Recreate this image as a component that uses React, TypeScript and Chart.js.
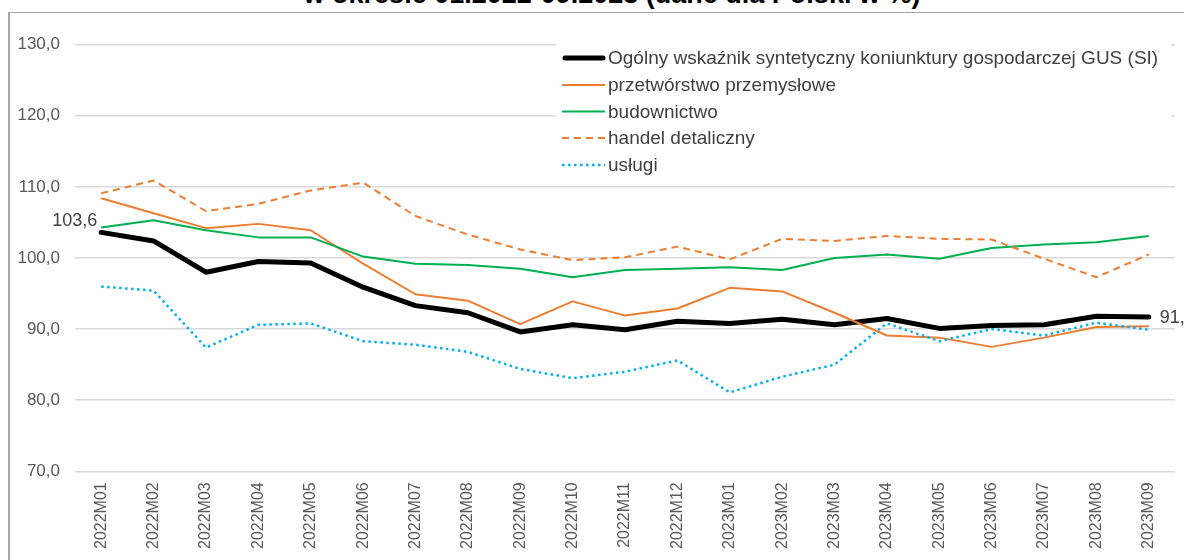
import React, { useEffect, useRef } from "react";
import { Chart, registerables } from "chart.js";

Chart.register(...registerables);

const titleText = "w okresie 01.2022-09.2023 (dane dla Polski w %)";

const categories = [
  "2022M01", "2022M02", "2022M03", "2022M04", "2022M05", "2022M06", "2022M07",
  "2022M08", "2022M09", "2022M10", "2022M11", "2022M12", "2023M01", "2023M02",
  "2023M03", "2023M04", "2023M05", "2023M06", "2023M07", "2023M08", "2023M09",
];

const seriesNames = [
  "Ogólny wskaźnik syntetyczny koniunktury gospodarczej GUS (SI)",
  "przetwórstwo przemysłowe",
  "budownictwo",
  "handel detaliczny",
  "usługi",
];

const siValues = [103.6, 102.4, 98.0, 99.5, 99.3, 95.9, 93.3, 92.3, 89.6, 90.6, 89.9, 91.1, 90.8, 91.4, 90.6, 91.5, 90.1, 90.5, 90.6, 91.8, 91.7];
const manufacturingValues = [108.4, 106.3, 104.2, 104.8, 103.9, 99.2, 94.9, 94.0, 90.7, 93.9, 91.9, 92.9, 95.8, 95.3, 92.3, 89.1, 88.8, 87.5, 88.8, 90.3, 90.4];
const constructionValues = [104.3, 105.3, 103.9, 102.9, 102.9, 100.2, 99.2, 99.0, 98.5, 97.3, 98.3, 98.5, 98.7, 98.3, 100.0, 100.5, 99.9, 101.4, 101.9, 102.2, 103.1];
const retailValues = [109.1, 110.9, 106.6, 107.6, 109.5, 110.6, 105.9, 103.3, 101.2, 99.7, 100.1, 101.6, 99.8, 102.7, 102.4, 103.1, 102.7, 102.6, 99.9, 97.3, 100.5];
const servicesValues = [96.0, 95.4, 87.4, 90.6, 90.8, 88.3, 87.8, 86.8, 84.4, 83.1, 84.0, 85.6, 81.1, 83.3, 85.0, 90.8, 88.3, 90.0, 89.1, 90.9, 89.9];

const yMin = 70;
const yMax = 130;
const yStep = 10;

const FONT = "'Liberation Sans', Arial, sans-serif";

const fmt = (v: number) => v.toFixed(1).replace(".", ",");

const styles = [
  { color: "#000000", width: 5, dash: [] as number[] },
  { color: "#ED7D31", width: 2, dash: [] as number[] },
  { color: "#00B050", width: 2, dash: [] as number[] },
  { color: "#ED7D31", width: 2, dash: [7, 5] },
  { color: "#00B0F0", width: 2.5, dash: [2.5, 3.5] },
];

const legendPlugin = {
  id: "boxLegend",
  afterDraw(chart: any) {
    const ctx = chart.ctx;
    ctx.save();
    ctx.fillStyle = "#ffffff";
    ctx.fillRect(556, 36, 615, 146);
    const rowY = [58, 85, 111.5, 138, 165];
    ctx.font = `19px ${FONT}`;
    ctx.textBaseline = "middle";
    ctx.textAlign = "left";
    seriesNames.forEach((name, i) => {
      const s = styles[i];
      ctx.beginPath();
      ctx.strokeStyle = s.color;
      ctx.lineWidth = s.width;
      ctx.lineCap = i === 0 ? "round" : "butt";
      ctx.setLineDash(s.dash);
      ctx.moveTo(i === 0 ? 565 : 562, rowY[i]);
      ctx.lineTo(i === 0 ? 603 : 605, rowY[i]);
      ctx.stroke();
      ctx.setLineDash([]);
      ctx.fillStyle = "#404040";
      ctx.fillText(name, 608, rowY[i] + 1);
    });
    ctx.restore();
  },
};

const labelPlugin = {
  id: "endLabels",
  afterDatasetsDraw(chart: any) {
    const ctx = chart.ctx;
    const meta = chart.getDatasetMeta(0);
    const first = meta.data[0];
    const last = meta.data[meta.data.length - 1];
    ctx.save();
    ctx.font = `18px ${FONT}`;
    ctx.fillStyle = "#404040";
    ctx.textBaseline = "middle";
    ctx.textAlign = "right";
    ctx.fillText(fmt(siValues[0]), first.x - 4, first.y - 11);
    ctx.textAlign = "left";
    ctx.fillText(fmt(siValues[siValues.length - 1]), last.x + 11, last.y + 1);
    ctx.restore();
  },
};

export default function App() {
  const canvasRef = useRef<HTMLCanvasElement | null>(null);

  useEffect(() => {
    const canvas = canvasRef.current;
    if (!canvas) return;
    const values = [siValues, manufacturingValues, constructionValues, retailValues, servicesValues];
    const chart = new Chart(canvas, {
      type: "line",
      data: {
        labels: categories,
        datasets: values.map((data, i) => ({
          label: seriesNames[i],
          data,
          borderColor: styles[i].color,
          backgroundColor: styles[i].color,
          borderWidth: styles[i].width,
          borderDash: styles[i].dash,
          borderJoinStyle: "round" as const,
          borderCapStyle: i === 0 ? ("round" as const) : ("butt" as const),
          pointRadius: 0,
          pointHoverRadius: 0,
          tension: 0,
          fill: false,
          order: 5 - i,
        })),
      },
      options: {
        responsive: false,
        animation: false,
        devicePixelRatio: 1,
        layout: { padding: { top: 44.7, right: 9, bottom: 0, left: 0 } },
        plugins: {
          legend: { display: false },
          title: { display: false },
          tooltip: { enabled: false },
        },
        scales: {
          x: {
            type: "category",
            offset: true,
            grid: { display: false, drawTicks: false },
            border: { display: false },
            ticks: {
              autoSkip: false,
              minRotation: 90,
              maxRotation: 90,
              padding: 11,
              color: "#595959",
              font: { family: FONT, size: 16 },
            },
            afterFit: (scale: any) => {
              scale.height = 88.7;
            },
          },
          y: {
            min: yMin,
            max: yMax,
            ticks: {
              stepSize: yStep,
              padding: 15,
              color: "#595959",
              font: { family: FONT, size: 17 },
              callback: (v: any) => fmt(Number(v)),
            },
            grid: { color: "#d9d9d9", lineWidth: 1.5, drawTicks: false },
            border: { display: false },
            afterFit: (scale: any) => {
              scale.width = 75;
            },
          },
        },
      },
      plugins: [labelPlugin, legendPlugin],
    });
    return () => chart.destroy();
  }, []);

  return (
    <div style={{ position: "fixed", left: 0, top: 0, width: 1184, height: 560, overflow: "hidden", background: "#fff" }}>
      <div
        style={{
          position: "absolute",
          left: 8,
          top: 12,
          width: 1300,
          height: 700,
          borderLeft: "2px solid #a6a6a6",
          borderTop: "1.5px solid #a6a6a6",
        }}
      />
      <div
        style={{
          position: "absolute",
          left: 20,
          top: -20,
          width: 1184,
          textAlign: "center",
          fontFamily: FONT,
          fontWeight: "bold",
          fontSize: 27,
          lineHeight: "28px",
          color: "#000",
          whiteSpace: "nowrap",
        }}
      >
        {titleText}
      </div>
      <canvas ref={canvasRef} width={1184} height={560} style={{ position: "absolute", left: 0, top: 0, display: "block" }} />
    </div>
  );
}
